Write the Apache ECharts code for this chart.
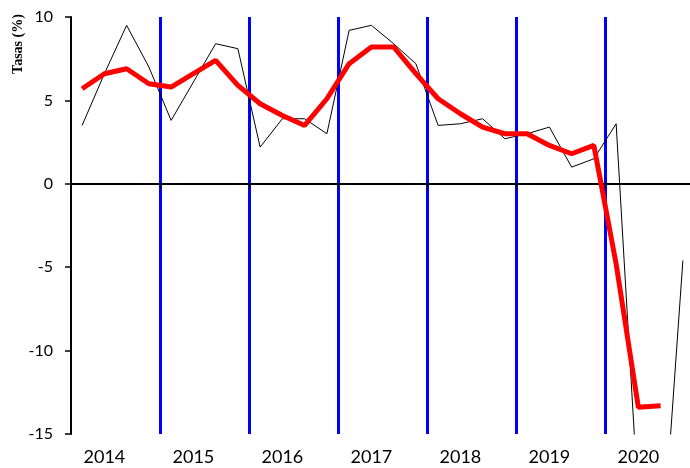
<!DOCTYPE html>
<html>
<head>
<meta charset="utf-8">
<script src="https://cdn.jsdelivr.net/npm/echarts@6/dist/echarts.min.js"></script>
<style>
  html, body { margin: 0; padding: 0; background: #fff; }
  #chart { width: 690px; height: 468px; }
</style>
</head>
<body>
<div id="chart"></div>
<script>
// quarters 2014T1 .. 2020T4
const years = ['2014', '2015', '2016', '2017', '2018', '2019', '2020'];
const quarters = ['T1', 'T2', 'T3', 'T4'];
const categories = years.flatMap(y => quarters.map(q => y + q));

// thin black line: quarterly rate
const quarterlyRate = [
    3.5, 6.6, 9.5, 7.0,
    3.8, 6.1, 8.4, 8.1,
    2.2, 3.9, 3.9, 3.0,
    9.2, 9.5, 8.4, 7.2,
    3.5, 3.6, 3.9, 2.7,
    3.0, 3.4, 1.0, 1.5,
    3.6, -19.2, -23.5, -4.6
];

// thick red line: annual rate
const annualRate = [
    5.7, 6.6, 6.9, 6.0,
    5.8, 6.6, 7.4, 5.9,
    4.8, 4.1, 3.5, 5.1,
    7.2, 8.2, 8.2, 6.6,
    5.1, 4.2, 3.4, 3.0,
    3.0, 2.3, 1.8, 2.3,
    -4.8, -13.4, -13.3, null
];

const yTicks = { min: -15, max: 10, step: 5 };

const chart = echarts.init(document.getElementById('chart'), null, { renderer: 'canvas' });

const isYearStart = (i) => i > 0 && i % 4 === 0;

chart.setOption({
    animation: false,
    grid: { left: 71, top: 17, width: 623, height: 417, outerBoundsMode: 'none' },
    graphic: [{
        type: 'text',
        x: 18,
        y: 44,
        rotation: Math.PI / 2,
        style: {
            text: 'Tasas (%)',
            font: 'bold 14px "Liberation Serif"',
            fill: '#000',
            align: 'center',
            verticalAlign: 'middle'
        }
    }],
    xAxis: [
        {
            type: 'category',
            data: categories,
            position: 'bottom',
            axisLine: { show: false, onZero: false },
            axisTick: { show: false },
            splitLine: { show: false },
            axisLabel: {
                interval: 0,
                margin: 14,
                fontFamily: 'Lato',
                fontSize: 18,
                color: '#000',
                formatter: (v, i) => (i % 4 === 1 ? v.slice(0, 4) : '')
            }
        },
        {
            type: 'category',
            data: categories,
            position: 'bottom',
            axisLine: { show: true, onZero: true, lineStyle: { color: '#000', width: 2 } },
            axisTick: { show: true, interval: isYearStart, length: 6, lineStyle: { color: '#000', width: 1 } },
            axisLabel: { show: false },
            splitLine: { show: true, interval: isYearStart, lineStyle: { color: '#0000ff', width: 3 } }
        }
    ],
    yAxis: {
        type: 'value',
        min: yTicks.min,
        max: yTicks.max,
        interval: yTicks.step,
        axisLine: { show: true, lineStyle: { color: '#000', width: 2 } },
        axisTick: { show: true, length: 6, lineStyle: { color: '#000', width: 1.5 } },
        splitLine: { show: false },
        axisLabel: { margin: 18, fontFamily: 'Lato', fontSize: 16, color: '#000' }
    },
    series: [
        {
            type: 'line',
            xAxisIndex: 0,
            data: quarterlyRate,
            showSymbol: false,
            lineStyle: { color: '#000', width: 1 },
            z: 3
        },
        {
            type: 'line',
            xAxisIndex: 0,
            data: annualRate,
            showSymbol: false,
            lineStyle: { color: '#ff0000', width: 5 },
            z: 4
        }
    ]
});
</script>
</body>
</html>
